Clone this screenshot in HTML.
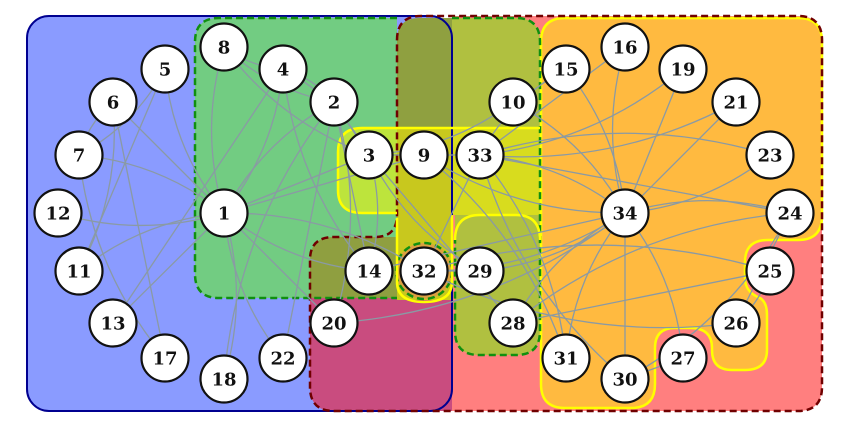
<!DOCTYPE html>
<html><head><meta charset="utf-8"><style>
body{margin:0;background:#fff}
svg{display:block}
text{font-family:"DejaVu Serif","Liberation Serif",serif;font-weight:bold;font-size:18px}
</style></head><body>
<svg id="g" width="850" height="427" viewBox="0 0 850 427">
<g>
<rect x="27" y="16" width="425" height="395" rx="22" fill="#8a9bff"/>
<path d="M452 16 H798 Q822 16 822 40 V387 Q822 411 798 411 H452 Z" fill="#ff7f7f"/>
<path d="M310 260 Q310 237 334 237 H452 V411 H334 Q310 411 310 387 Z" fill="#c94c7f"/>
<path d="M219 18 H397 V298 H219 Q195 298 195 274 V42 Q195 18 219 18 Z" fill="#72cc82"/>
<path d="M397 40 Q397 18 420 18 H452 V220 H397 Z" fill="#8fa040"/>
<path d="M310 260 Q310 237 334 237 H397 V298 H310 Z" fill="#8f9f40"/>
<path d="M452 18 H516 Q540 18 540 42 V331 Q540 355 516 355 H479 Q455 355 455 331 V212 H452 Z" fill="#b0c040"/>
<path d="M362 128 H397 V213 H362 Q338 213 338 190 V152 Q338 128 362 128 Z" fill="#bde43c"/>
<rect x="397" y="128" width="55" height="172" fill="#c8c81e"/>
<path d="M452 128 H540 V215 H452 Z" fill="#d8dc1e"/>
<circle cx="424" cy="271" r="28" fill="#dca040"/>
<path d="M565 18 H798 Q822 18 822 42 V216 Q822 240 798 240 H768 Q745 240 745 262 V278 Q745 292 760 298 Q767 302 767 315 V350 Q767 370 745 370 H732 Q712 370 712 350 V348 Q712 328 690 328 H675 Q655 328 655 348 V384 Q655 408 631 408 H565 Q541 408 541 384 V42 Q541 18 565 18 Z" fill="#ffba40" stroke="#ffff00" stroke-width="2.5"/>
</g>
<g fill="none">
<rect x="27" y="16" width="425" height="395" rx="22" stroke="#000090" stroke-width="2"/>
<path d="M397 40 Q397 16 421 16 H798 Q822 16 822 40 V387 Q822 411 798 411 H334 Q310 411 310 387 V260 Q310 237 334 237 H375 Q397 237 397 215 Z" stroke="#700000" stroke-width="2.5" stroke-dasharray="7,4"/>
<path d="M397 18 H219 Q195 18 195 42 V274 Q195 298 219 298 H397" stroke="#109010" stroke-width="2.5" stroke-dasharray="7,4"/>
<path d="M452 18 H516 Q540 18 540 42 V331 Q540 355 516 355 H479 Q455 355 455 331 V240" stroke="#109010" stroke-width="2.5" stroke-dasharray="7,4"/>
<circle cx="424" cy="271" r="28" stroke="#109010" stroke-width="2.5" stroke-dasharray="7,4"/>
<path d="M397 213 H362 Q338 213 338 190 V152 Q338 128 362 128 H540" stroke="#ffff00" stroke-width="2.5"/>
<path d="M397 218 V282 Q397 302 424 302 Q452 302 452 282 V215" stroke="#ffff00" stroke-width="2.5"/>
<path d="M455 240 Q455 215 480 215 H516 Q540 215 540 240" stroke="#ffff00" stroke-width="2.5"/>
</g>
<g id="edges" stroke="#8a9aa4" stroke-width="1.3" fill="none"></g>
<g id="nodes"></g>
</svg>
<script>
const nodeIds=[1,2,3,4,5,6,7,8,9,10,11,12,13,14,15,16,17,18,19,20,21,22,23,24,25,26,27,28,29,30,31,32,33,34];
const nodeX=[224,334,369,283,165,113,79,224,424,513,79,58,113,369,566,625,165,224,683,334,736,283,770,790,770,736,683,513,480,625,566,424,480,625];
const nodeY=[213,102,155,69,69,102,155,47,155,102,271,213,323,271,69,47,358,379,69,323,102,358,155,213,271,323,358,323,271,379,358,271,155,213];
const edgeFrom=[1,1,1,1,1,1,1,1,1,1,1,1,1,1,1,1,2,2,2,2,2,2,2,3,3,3,3,3,3,3,4,4,4,5,5,6,6,6,7,9,9,9,10,14,15,15,16,16,19,19,20,21,21,23,23,24,24,24,24,24,25,25,25,26,27,27,28,29,29,30,30,31,31,32,32,33];
const edgeTo=[2,3,4,5,6,7,8,9,11,12,13,14,18,20,22,32,3,4,8,14,18,20,22,4,8,9,10,14,28,29,8,13,14,7,11,7,11,17,17,31,33,34,34,34,33,34,33,34,33,34,34,33,34,33,34,26,28,30,33,34,26,28,32,32,30,34,34,32,34,33,34,33,34,33,34,34];
const NS="http://www.w3.org/2000/svg";
const eg=document.getElementById('edges'), ng=document.getElementById('nodes');
function px(id){return nodeX[nodeIds.indexOf(id)];}
function py(id){return nodeY[nodeIds.indexOf(id)];}
for(let i=0;i<edgeFrom.length;i++){
  const x1=px(edgeFrom[i]),y1=py(edgeFrom[i]),x2=px(edgeTo[i]),y2=py(edgeTo[i]);
  const mx=(x1+x2)/2,my=(y1+y2)/2,dx=x2-x1,dy=y2-y1;
  const k=(i%3-1)*0.15;
  const p=document.createElementNS(NS,'path');
  p.setAttribute('d',`M${x1} ${y1} Q${mx-dy*k} ${my+dx*k} ${x2} ${y2}`);
  
  
  eg.appendChild(p);
}
for(let i=0;i<nodeIds.length;i++){
  const c=document.createElementNS(NS,'circle');
  c.setAttribute('cx',nodeX[i]);c.setAttribute('cy',nodeY[i]);c.setAttribute('r',23.5);
  c.setAttribute('fill','#fff');c.setAttribute('stroke','#111');c.setAttribute('stroke-width','2.2');
  
  
  ng.appendChild(c);
  const t=document.createElementNS(NS,'text');
  t.setAttribute('x',nodeX[i]);t.setAttribute('y',nodeY[i]+6.5);t.setAttribute('text-anchor','middle');t.setAttribute('fill','#111');
  t.textContent=nodeIds[i];
  
  
  ng.appendChild(t);
}
</script>
</body></html>
